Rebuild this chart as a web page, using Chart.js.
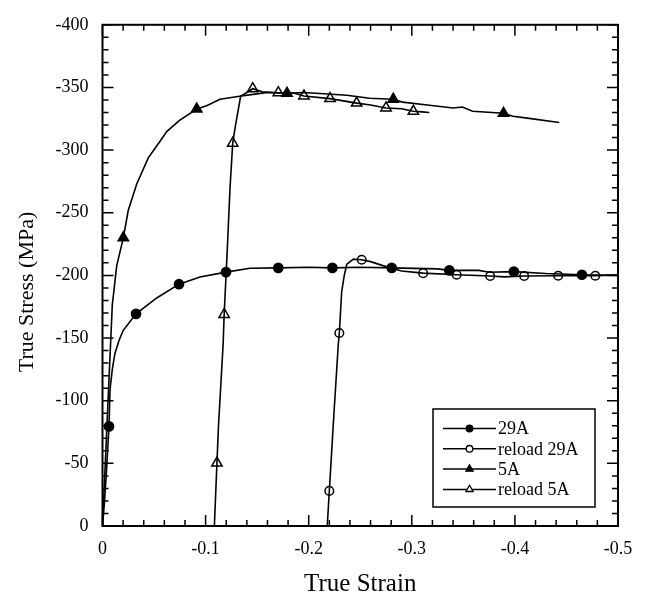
<!DOCTYPE html>
<html>
<head>
<meta charset="utf-8">
<script src="https://cdn.jsdelivr.net/npm/chart.js@4.4.1/dist/chart.umd.min.js"></script>
<style>
  html, body { margin: 0; padding: 0; background: #fff; }
  canvas { display: block; }
</style>
</head>
<body>
<canvas id="c" width="647" height="600"></canvas>
<script>
// ── Data (strain and stress are negative) ──────────────────────────────
const labels = ["29A", "reload 29A", "5A", "reload 5A"];

// 29A – monotonic test, filled circles
const strain29A = [0, -0.002, -0.004, -0.0063, -0.0073, -0.0095, -0.012, -0.016, -0.02, -0.0325,
  -0.0526, -0.0742, -0.0946, -0.1198, -0.143, -0.1705, -0.2, -0.223, -0.25, -0.2805, -0.325,
  -0.3364, -0.365, -0.375, -0.399, -0.43, -0.465, -0.5];
const stress29A = [0, -20, -46, -79.5, -109, -125, -137.5, -148, -156, -169.3,
  -182, -193, -198.7, -202.6, -205.7, -206, -206.5, -206, -206.5, -206, -205.2,
  -204, -204, -202.5, -203, -201.5, -200.5, -200];
const markStrain29A = [-0.0063, -0.0325, -0.0742, -0.1198, -0.1705, -0.223, -0.2805, -0.3364, -0.399, -0.465];
const markStress29A = [-79.5, -169.3, -193, -202.6, -206, -206, -206, -204, -203, -200.5];

// reload 29A – open circles
const strainR29A = [-0.218, -0.22, -0.2245, -0.2287, -0.2297, -0.232, -0.2345, -0.237, -0.2433,
  -0.2514, -0.26, -0.272, -0.29, -0.311, -0.3435, -0.376, -0.39, -0.409, -0.442, -0.478, -0.5];
const stressR29A = [0, -28, -90, -145, -154, -187, -200, -209, -213,
  -212.5, -211, -207.8, -203.5, -201.8, -200.5, -199.5, -198.8, -199.5, -199.7, -199.7, -200.4];
const markStrainR29A = [-0.22, -0.2297, -0.2514, -0.311, -0.3435, -0.376, -0.409, -0.442, -0.478];
const markStressR29A = [-28, -154, -212.5, -201.8, -200.5, -199.5, -199.5, -199.7, -199.7];

// 5A – monotonic test, filled triangles
const strain5A = [0, -0.0095, -0.0138, -0.0202, -0.025, -0.0332, -0.0444, -0.0558, -0.0623, -0.075,
  -0.0914, -0.101, -0.114, -0.133, -0.146, -0.16, -0.179, -0.1945, -0.215, -0.237, -0.259,
  -0.282, -0.291, -0.315, -0.34, -0.349, -0.359, -0.389, -0.398, -0.412, -0.443];
const stress5A = [0, -176.5, -207.8, -230, -252, -273, -293.8, -307, -314.8, -324,
  -332.8, -335.4, -340.6, -343, -344.5, -346, -345.3, -346, -345, -343.8, -341.4,
  -340.6, -338.3, -336, -333.6, -334.4, -331, -329.4, -327, -325.5, -322];
const markStrain5A = [-0.0202, -0.0914, -0.179, -0.282, -0.389];
const markStress5A = [-230, -332.8, -345.3, -340.6, -329.4];

// reload 5A – open triangles
const strainR5A = [-0.1085, -0.111, -0.1125, -0.117, -0.118, -0.121, -0.1237, -0.1263, -0.129,
  -0.134, -0.14, -0.1457, -0.155, -0.1705, -0.185, -0.1954, -0.2207, -0.2465, -0.26, -0.275,
  -0.29, -0.3015, -0.31, -0.317];
const stressR5A = [0, -50.2, -80, -145, -168.8, -220, -270, -305.5, -319.8,
  -343, -346, -349, -346.5, -345.8, -345.5, -343.2, -341.1, -337.5, -336, -333.6,
  -333, -331, -330.5, -330];
const markStrainR5A = [-0.111, -0.118, -0.1263, -0.1457, -0.1705, -0.1954, -0.2207, -0.2465, -0.275, -0.3015];
const markStressR5A = [-50.2, -168.8, -305.5, -349, -345.8, -343.2, -341.1, -337.5, -333.6, -331];

const xTicks = [0, -0.1, -0.2, -0.3, -0.4, -0.5];
const yTicks = [0, -50, -100, -150, -200, -250, -300, -350, -400];

// ── Helpers ─────────────────────────────────────────────────────────────
const pts = (xs, ys) => xs.map((x, i) => ({ x, y: ys[i] }));
const SERIF = '"Liberation Serif", "Times New Roman", serif';

function lineSet(xs, ys) {
  return {
    data: pts(xs, ys),
    borderColor: "#000",
    borderWidth: 1.6,
    pointRadius: 0,
    tension: 0,
    fill: false,
  };
}
function markSet(label, xs, ys, style, filled, r) {
  return {
    label,
    data: pts(xs, ys),
    showLine: false,
    pointStyle: style,
    pointRadius: r,
    pointBorderWidth: 1.5,
    pointBorderColor: "#000",
    pointBackgroundColor: filled ? "#000" : "#fff",
  };
}

// Inward ticks on all four sides + frame
const frameTicks = {
  id: "frameTicks",
  afterDraw(chart) {
    const { ctx, chartArea: a } = chart;
    const { x, y } = chart.scales;
    ctx.save();
    ctx.strokeStyle = "#000";
    ctx.lineWidth = 1.5;
    ctx.beginPath();
    for (let i = 0; i <= 25; i++) {
      const px = x.getPixelForValue(-i * 0.02);
      const len = i % 5 === 0 ? 11 : 6;
      ctx.moveTo(px, a.bottom); ctx.lineTo(px, a.bottom - len);
      ctx.moveTo(px, a.top); ctx.lineTo(px, a.top + len);
    }
    for (let i = 0; i <= 40; i++) {
      const py = y.getPixelForValue(-i * 10);
      const len = i % 5 === 0 ? 11 : 6;
      ctx.moveTo(a.left, py); ctx.lineTo(a.left + len, py);
      ctx.moveTo(a.right, py); ctx.lineTo(a.right - len, py);
    }
    ctx.stroke();
    ctx.lineWidth = 2;
    ctx.strokeRect(a.left, a.top, a.right - a.left, a.bottom - a.top);
    ctx.restore();
  },
};

// y title sits a little below the middle of the axis in the original
const yTitle = {
  id: "yTitle",
  afterDraw(chart) {
    const { ctx } = chart;
    ctx.save();
    ctx.translate(27, 292);
    ctx.rotate(-Math.PI / 2);
    ctx.font = "22px " + SERIF;
    ctx.fillStyle = "#000";
    ctx.textAlign = "center";
    ctx.textBaseline = "middle";
    ctx.fillText("True Stress (MPa)", 0, 0);
    ctx.restore();
  },
};

// Boxed legend in the lower right of the plot
const boxLegend = {
  id: "boxLegend",
  afterDraw(chart) {
    const { ctx } = chart;
    const marks = chart.data.datasets.filter((d) => d.label);
    const left = 433, top = 409, w = 162, h = 98;
    ctx.save();
    ctx.fillStyle = "#fff";
    ctx.fillRect(left, top, w, h);
    ctx.strokeStyle = "#000";
    ctx.lineWidth = 1.5;
    ctx.strokeRect(left, top, w, h);
    ctx.font = "18px " + SERIF;
    ctx.textBaseline = "middle";
    marks.forEach((d, i) => {
      const cy = top + 19.5 + i * 20.3;
      ctx.beginPath();
      ctx.moveTo(443, cy); ctx.lineTo(496, cy);
      ctx.lineWidth = 1.5;
      ctx.stroke();
      ctx.fillStyle = d.pointBackgroundColor;
      ctx.lineWidth = 1.3;
      Chart.helpers.drawPoint(ctx, {
        pointStyle: d.pointStyle,
        radius: d.pointStyle === "triangle" ? 4.2 : 3.3,
        borderWidth: 1.3,
        rotation: 0,
      }, 469.5, cy);
      ctx.fillStyle = "#000";
      ctx.fillText(d.label, 498, cy + 1);
    });
    ctx.restore();
  },
};

// ── Chart ───────────────────────────────────────────────────────────────
new Chart(document.getElementById("c"), {
  type: "line",
  data: {
    datasets: [
      lineSet(strain29A, stress29A),
      lineSet(strainR29A, stressR29A),
      lineSet(strain5A, stress5A),
      lineSet(strainR5A, stressR5A),
      markSet(labels[0], markStrain29A, markStress29A, "circle", true, 4.6),
      markSet(labels[1], markStrainR29A, markStressR29A, "circle", false, 4.3),
      markSet(labels[2], markStrain5A, markStress5A, "triangle", true, 6),
      markSet(labels[3], markStrainR5A, markStressR5A, "triangle", false, 6),
    ],
  },
  options: {
    responsive: false,
    animation: false,
    devicePixelRatio: 1,
    layout: { padding: { top: 14, right: 29, left: 0, bottom: 0 } },
    plugins: { legend: { display: false }, tooltip: { enabled: false } },
    scales: {
      x: {
        type: "linear",
        min: -0.5,
        max: 0,
        reverse: true,
        afterFit: (s) => { s.height = 74; },
        afterBuildTicks: (s) => { s.ticks = xTicks.map((v) => ({ value: v })); },
        grid: { display: false, drawTicks: false },
        border: { display: false },
        ticks: {
          color: "#000",
          padding: 12,
          font: { family: SERIF, size: 18 },
          callback: (v) => (v === 0 ? "0" : Number(v).toFixed(1)),
        },
        title: {
          display: true,
          text: "True Strain",
          color: "#000",
          padding: { bottom: 3, top: 0 },
          font: { family: SERIF, size: 25, lineHeight: 1 },
        },
      },
      y: {
        type: "linear",
        min: -400,
        max: 0,
        reverse: true,
        afterFit: (s) => { s.width = 102.5; },
        afterBuildTicks: (s) => { s.ticks = yTicks.map((v) => ({ value: v })); },
        grid: { display: false, drawTicks: false },
        border: { display: false },
        ticks: {
          color: "#000",
          padding: 14,
          font: { family: SERIF, size: 18 },
          callback: (v) => String(v),
        },
        title: { display: false },
      },
    },
  },
  plugins: [frameTicks, yTitle, boxLegend],
});
</script>
</body>
</html>
